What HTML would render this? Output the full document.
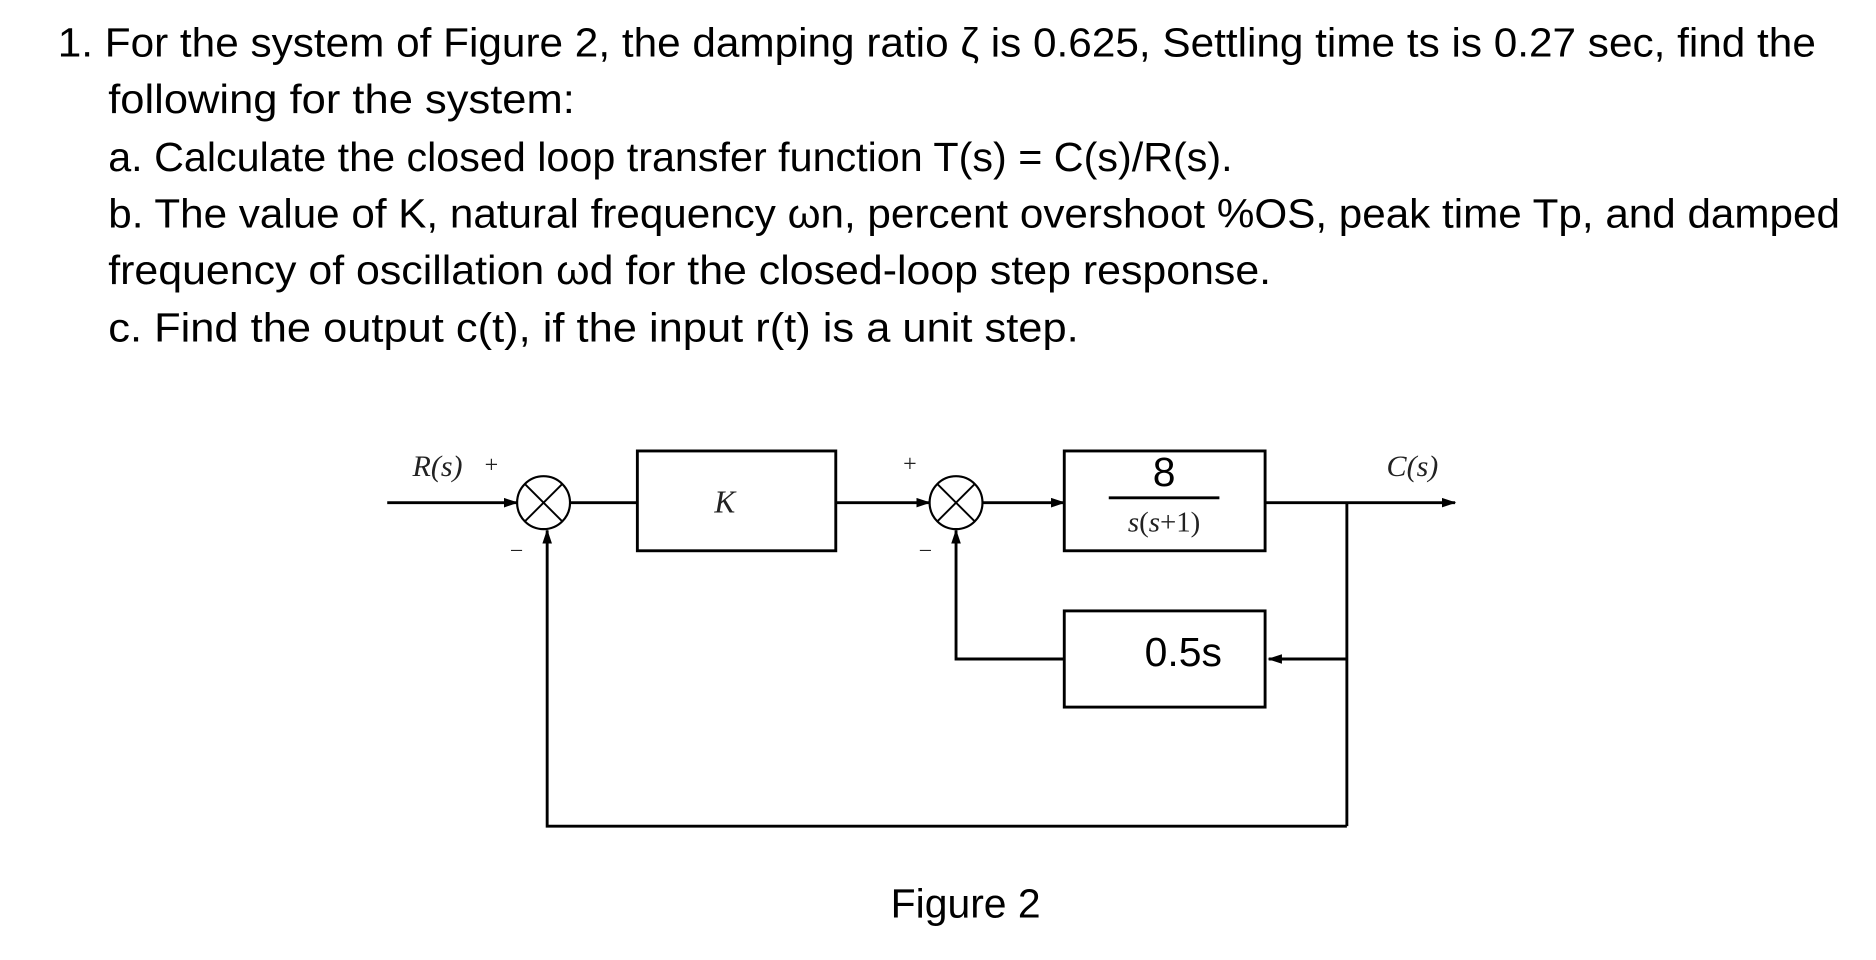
<!DOCTYPE html>
<html><head><meta charset="utf-8"><style>
html,body{margin:0;padding:0;background:#fff;}
svg{display:block;}
.t{font-family:"Liberation Sans",sans-serif;font-size:34px;fill:#000;}
.s{font-family:"Liberation Serif",serif;fill:#222;}
</style></head><body>
<svg width="1876" height="960" viewBox="0 0 1560 798.3" xmlns="http://www.w3.org/2000/svg">
<defs><marker id="a" markerWidth="12" markerHeight="8" refX="11" refY="4" orient="auto" markerUnits="userSpaceOnUse"><path d="M0,0 L12,4 L0,8 Z" fill="#000"/></marker></defs>
<text class="t" x="48" y="47" textLength="1462" lengthAdjust="spacingAndGlyphs">1. For the system of Figure 2, the damping ratio ζ is 0.625, Settling time ts is 0.27 sec, find the</text>
<text class="t" x="90" y="94" textLength="388" lengthAdjust="spacingAndGlyphs">following for the system:</text>
<text class="t" x="90" y="142" textLength="935" lengthAdjust="spacingAndGlyphs">a. Calculate the closed loop transfer function T(s) = C(s)/R(s).</text>
<text class="t" x="90" y="189" textLength="1440" lengthAdjust="spacingAndGlyphs">b. The value of K, natural frequency ωn, percent overshoot %OS, peak time Tp, and damped</text>
<text class="t" x="90" y="236" textLength="967" lengthAdjust="spacingAndGlyphs">frequency of oscillation ωd for the closed-loop step response.</text>
<text class="t" x="90" y="284" textLength="807" lengthAdjust="spacingAndGlyphs">c. Find the output c(t), if the input r(t) is a unit step.</text>

<g stroke="#000" stroke-width="2.4" fill="none">
<line x1="322" y1="418" x2="430" y2="418" marker-end="url(#a)"/>
<circle cx="452" cy="418" r="22" stroke-width="1.8"/>
<line x1="436.4" y1="402.4" x2="467.6" y2="433.6" stroke-width="1.6"/>
<line x1="467.6" y1="402.4" x2="436.4" y2="433.6" stroke-width="1.6"/>
<line x1="474" y1="418" x2="530" y2="418"/>
<rect x="530" y="375" width="165" height="83"/>
<line x1="695" y1="418" x2="773" y2="418" marker-end="url(#a)"/>
<circle cx="795" cy="418" r="22" stroke-width="1.8"/>
<line x1="779.4" y1="402.4" x2="810.6" y2="433.6" stroke-width="1.6"/>
<line x1="810.6" y1="402.4" x2="779.4" y2="433.6" stroke-width="1.6"/>
<line x1="817" y1="418" x2="885" y2="418" marker-end="url(#a)"/>
<rect x="885" y="375" width="167" height="83"/>
<line x1="1052" y1="418" x2="1210" y2="418" marker-end="url(#a)"/>
<line x1="1120" y1="418" x2="1120" y2="687"/>
<rect x="885" y="508" width="167" height="80"/>
<line x1="1120" y1="548" x2="1055" y2="548" marker-end="url(#a)"/>
<polyline points="885,548 795,548 795,441" marker-end="url(#a)"/>
<polyline points="1120,687 455,687 455,441" marker-end="url(#a)"/>
<line x1="922" y1="414" x2="1014" y2="414"/>
</g>
<text class="s" x="343" y="396" font-size="25" font-style="italic">R(s)</text>
<text class="s" x="403" y="393" font-size="20">+</text>
<text class="s" x="425" y="462" font-size="18">–</text>
<text class="s" x="751" y="392" font-size="20">+</text>
<text class="s" x="765" y="462" font-size="18">–</text>
<text class="s" x="594" y="426" font-size="26" font-style="italic">K</text>
<text class="t" x="968" y="404" font-size="19" text-anchor="middle">8</text>
<text class="s" x="968" y="442" font-size="24" text-anchor="middle"><tspan font-style="italic">s</tspan>(<tspan font-style="italic">s</tspan>+1)</text>
<text class="s" x="1153" y="396" font-size="25" font-style="italic">C(s)</text>
<text class="t" x="984" y="554" font-size="19" text-anchor="middle">0.5s</text>
<text class="t" x="803" y="763" font-size="30" text-anchor="middle">Figure 2</text>
</svg>
</body></html>
